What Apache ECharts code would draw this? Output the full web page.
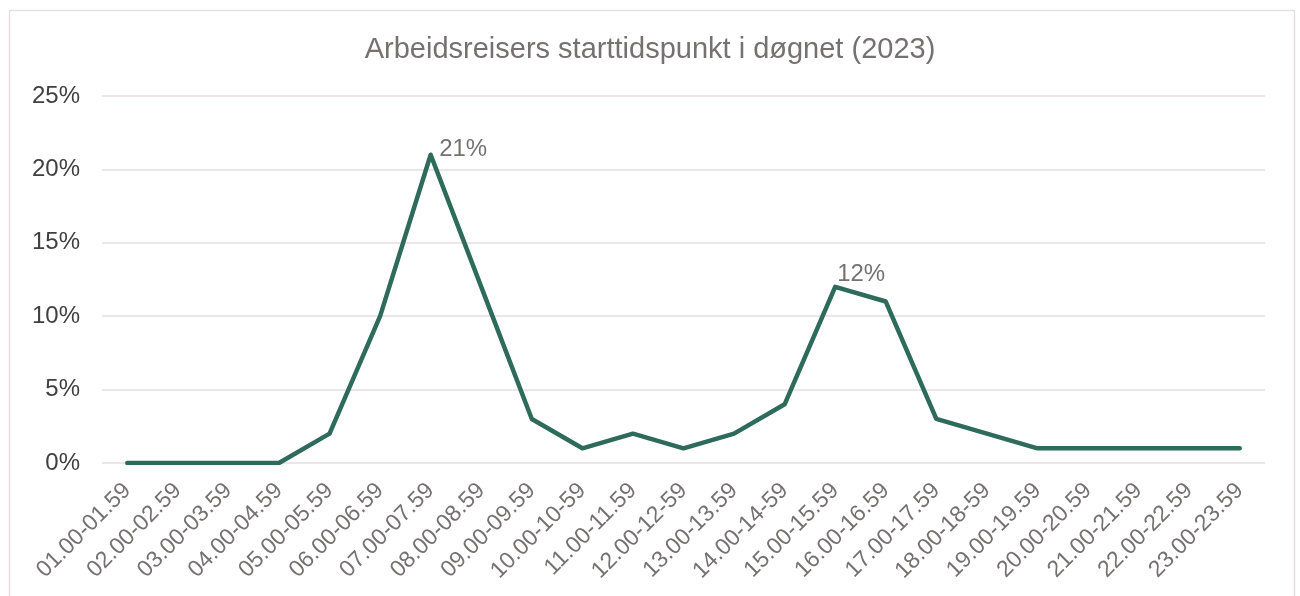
<!DOCTYPE html>
<html>
<head>
<meta charset="utf-8">
<script src="https://cdn.jsdelivr.net/npm/echarts@6/dist/echarts.min.js"></script>
<style>
	html, body { margin: 0; padding: 0; background: #fff; }
	#chart { width: 1300px; height: 596px; }
</style>
</head>
<body>
<div id="chart"></div>
<script>
	// timer-intervaller (skrivemåten følger originalen, også 10-59, 12-59, 14-59, 18-59)
	const categories = [
		'01.00-01.59', '02.00-02.59', '03.00-03.59', '04.00-04.59', '05.00-05.59',
		'06.00-06.59', '07.00-07.59', '08.00-08.59', '09.00-09.59', '10.00-10-59',
		'11.00-11.59', '12.00-12-59', '13.00-13.59', '14.00-14-59', '15.00-15.59',
		'16.00-16.59', '17.00-17.59', '18.00-18-59', '19.00-19.59', '20.00-20.59',
		'21.00-21.59', '22.00-22.59', '23.00-23.59'
	];
	const shares = [0, 0, 0, 0, 2, 10, 21, 12, 3, 1, 2, 1, 2, 4, 12, 11, 3, 2, 1, 1, 1, 1, 1];
	const labelled = [6, 14]; // bare toppene har etikett

	let chart = echarts.init(document.getElementById('chart'));
	let data = shares.map((v, i) => {
		if (labelled.indexOf(i) < 0) return v;
		let first = i === labelled[0];
		return {
			value: v,
			label: {
				show: true,
				position: first ? 'right' : 'top',
				distance: first ? 8 : 0,
				offset: first ? [0, -5] : [26, 0]
			}
		};
	});

	const option = {
		backgroundColor: '#fff',
		animation: false,
		textStyle: { fontFamily: 'Liberation Sans, Arial, sans-serif' },
		title: {
			text: 'Arbeidsreisers starttidspunkt i døgnet (2023)',
			left: 'center',
			top: 30,
			textStyle: { color: '#767171', fontSize: 29, fontWeight: 'normal' }
		},
		graphic: [{
			type: 'rect',
			shape: { x: 9.5, y: 10.5, width: 1285, height: 600 },
			style: { fill: 'none', stroke: '#e8dde0', lineWidth: 1.5 },
			silent: true
		}],
		grid: { left: 102, right: 35, top: 96, bottom: 133 },
		xAxis: {
			type: 'category',
			data: categories,
			boundaryGap: true,
			axisLine: { show: false },
			axisTick: { show: false },
			axisLabel: { rotate: 45, color: '#767171', fontSize: 23, margin: 24, interval: 0 }
		},
		yAxis: {
			type: 'value',
			min: 0,
			max: 25,
			interval: 5,
			axisLabel: { formatter: '{value}%', color: '#404040', fontSize: 24, margin: 22 },
			splitLine: { lineStyle: { color: '#e8dde0', width: 1.5 } },
			axisLine: { show: false },
			axisTick: { show: false }
		},
		series: [{
			type: 'line',
			data: data,
			showSymbol: true,
			symbol: 'circle',
			symbolSize: 1,
			lineStyle: { color: '#2e6b5a', width: 4.5, join: 'round', cap: 'round' },
			itemStyle: { color: '#2e6b5a' },
			label: { formatter: '{c}%', color: '#767171', fontSize: 24 }
		}]
	};
	chart.setOption(option);
	window.addEventListener('resize', () => {
		chart.resize();
	});
</script>
</body>
</html>
